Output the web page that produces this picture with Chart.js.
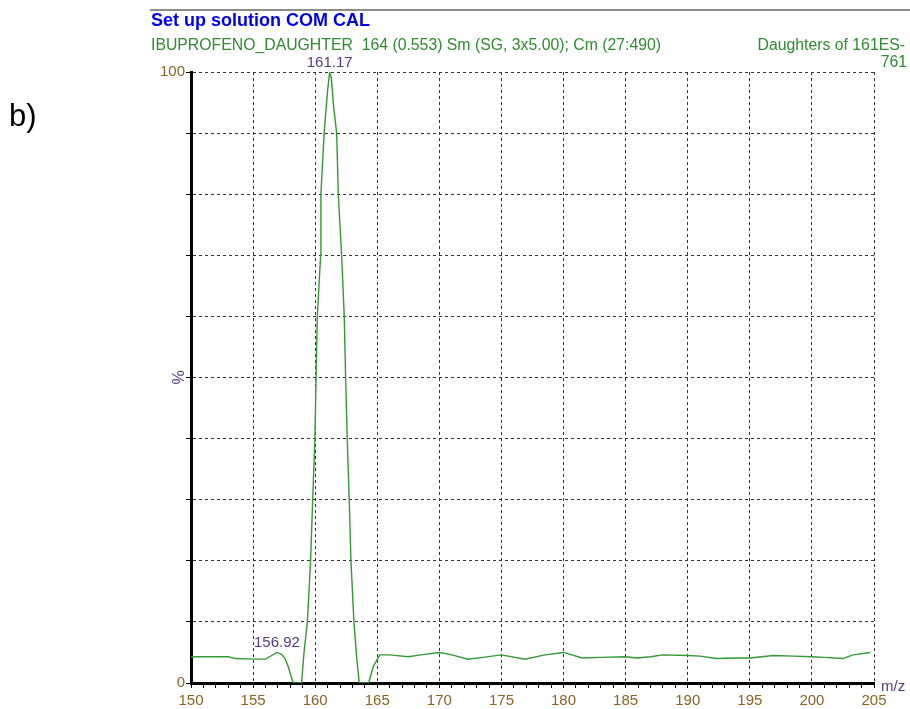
<!DOCTYPE html>
<html>
<head>
<meta charset="utf-8">
<script src="https://cdn.jsdelivr.net/npm/chart.js@4.4.1/dist/chart.umd.min.js"></script>
<style>
  html, body { margin: 0; padding: 0; background: #fff; }
  #spectrum { display: block; }
</style>
</head>
<body>
<canvas id="spectrum" width="910" height="709"></canvas>
<script>
// spectrum (m/z, % of base peak)
const mz = [150.0, 151.5, 153.0, 153.6, 155.0, 156.0, 156.5, 156.92, 157.3, 157.57, 157.83, 158.1, 158.25,
  158.9, 159.1, 159.37, 159.63, 159.8, 159.98, 160.07, 160.17, 160.44, 160.46, 160.72, 161.0, 161.17,
  161.3, 161.5, 161.73, 161.86, 162.13, 162.34, 162.45, 162.58, 162.74, 162.88, 163.12, 163.35, 163.55,
  164.3, 164.68, 165.2, 166.0, 167.5, 168.5, 170.0, 171.0, 172.3, 173.5, 175.0, 176.9, 178.5, 180.0,
  181.5, 183.0, 185.0, 185.9, 187.0, 188.0, 190.0, 191.0, 192.3, 194.0, 195.0, 196.9, 198.5, 200.0,
  201.0, 202.5, 203.3, 204.7];
const intensity = [4.3, 4.3, 4.3, 4.0, 3.9, 3.9, 4.5, 5.0, 4.7, 4.0, 2.7, 0.8, 0,
  0, 5, 10, 20, 30, 40, 50, 60, 70, 80, 90, 97, 100,
  99, 94, 90, 80, 70, 60, 50, 40, 30, 20, 10, 4, 0,
  0, 2.7, 4.6, 4.6, 4.3, 4.6, 5.0, 4.6, 3.9, 4.2, 4.6, 3.9, 4.6, 5.0,
  4.1, 4.2, 4.3, 4.1, 4.3, 4.6, 4.5, 4.4, 4.0, 4.1, 4.1, 4.5, 4.4, 4.3,
  4.2, 4.0, 4.6, 5.0];

const xLabelValues = [150, 155, 160, 165, 170, 175, 180, 185, 190, 195, 200, 205];
const yLabelValues = [0, 100];

const peakMz = [161.17, 156.92];
const peakValues = [100, 5.0];
const peakLabels = ['161.17', '156.92'];

const titleText = 'Set up solution COM CAL';
const subtitleText = 'IBUPROFENO_DAUGHTER  164 (0.553) Sm (SG, 3x5.00); Cm (27:490)';
const functionText = ['Daughters of 161ES-', '761'];

const tickColor = '#8a6424';
const labelColor = '#553a80';
const font = '"Liberation Sans", Arial, sans-serif';

const annotate = {
  id: 'annotate',
  afterDraw(chart) {
    const { ctx, scales: { x, y } } = chart;
    ctx.save();
    ctx.strokeStyle = '#8c8c8c';
    ctx.lineWidth = 2;
    ctx.beginPath();
    ctx.moveTo(150, 10);
    ctx.lineTo(910, 10);
    ctx.stroke();

    ctx.textBaseline = 'alphabetic';
    ctx.textAlign = 'left';
    ctx.fillStyle = '#0000ee';
    ctx.font = 'bold 18px ' + font;
    ctx.fillText(titleText, 151, 26);

    ctx.fillStyle = '#2e8b2e';
    ctx.font = '15.8px ' + font;
    ctx.fillText(subtitleText, 151, 50);
    ctx.textAlign = 'right';
    ctx.fillText(functionText[0], 905, 50);
    ctx.fillText(functionText[1], 907, 67);

    // peak labels
    ctx.fillStyle = labelColor;
    ctx.font = '15px ' + font;
    ctx.textAlign = 'center';
    ctx.textBaseline = 'bottom';
    peakMz.forEach((m, i) => {
      ctx.fillText(peakLabels[i], x.getPixelForValue(m), y.getPixelForValue(peakValues[i]) - 2);
    });

    ctx.textBaseline = 'middle';
    ctx.textAlign = 'left';
    ctx.fillText('m/z', 881, 687);

    ctx.save();
    ctx.translate(180, y.getPixelForValue(50));
    ctx.rotate(-Math.PI / 2);
    ctx.textAlign = 'center';
    ctx.font = '16px ' + font;
    ctx.fillText('%', 0, 0);
    ctx.restore();

    ctx.fillStyle = '#000';
    ctx.font = '31px ' + font;
    ctx.textAlign = 'left';
    ctx.textBaseline = 'middle';
    ctx.fillText('b)', 9, 117);
    ctx.restore();
  }
};

new Chart(document.getElementById('spectrum'), {
  type: 'scatter',
  data: {
    datasets: [{
      data: mz.map((m, i) => ({ x: m, y: intensity[i] })),
      showLine: true,
      borderColor: '#339933',
      borderWidth: 1.4,
      pointRadius: 0,
      tension: 0
    }]
  },
  options: {
    responsive: false,
    animation: false,
    layout: { padding: { top: 72, right: 36, left: 0, bottom: 0 } },
    plugins: {
      legend: { display: false },
      tooltip: { enabled: false }
    },
    scales: {
      x: {
        type: 'linear',
        min: 150,
        max: 205,
        afterFit(scale) { scale.height = 26; },
        ticks: {
          stepSize: 1,
          autoSkip: false,
          maxRotation: 0,
          padding: 4,
          color: tickColor,
          font: { family: font, size: 15 },
          callback: v => xLabelValues.includes(v) ? v : ''
        },
        grid: {
          color: c => (c.tick && c.tick.value % 5 === 0) ? '#333' : 'rgba(0,0,0,0)',
          tickColor: '#000',
          tickLength: 5,
          lineWidth: 1
        },
        border: { display: true, color: '#000', width: 3, dash: [3, 3] }
      },
      y: {
        min: 0,
        max: 100,
        afterFit(scale) { scale.width = 191; },
        ticks: {
          stepSize: 10,
          padding: 1,
          color: tickColor,
          font: { family: font, size: 15 },
          callback: v => yLabelValues.includes(v) ? v : ''
        },
        grid: {
          color: '#333',
          tickColor: '#000',
          tickLength: 5,
          lineWidth: 1
        },
        border: { display: true, color: '#000', width: 3, dash: [3, 3] }
      }
    }
  },
  plugins: [annotate]
});
</script>
</body>
</html>
